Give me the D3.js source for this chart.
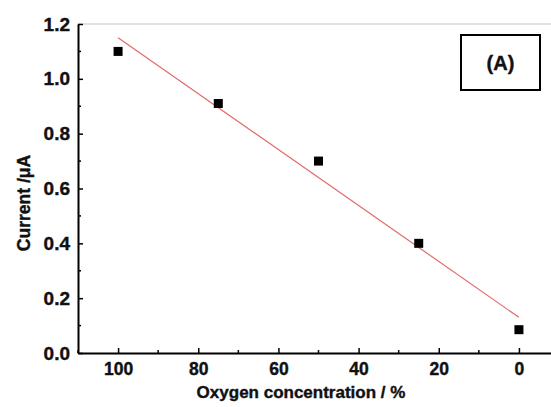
<!DOCTYPE html>
<html>
<head>
<meta charset="utf-8">
<script src="https://cdn.jsdelivr.net/npm/d3@7"></script>
<style>
  body { margin: 0; background: #fff; }
  svg { font-family: "Liberation Sans", Arial, sans-serif; font-weight: bold; }
  svg text { stroke: #111; stroke-width: 0.4px; }
</style>
</head>
<body>
<svg width="551" height="407"></svg>
<script>
// data
var oxygen = [100, 75, 50, 25, 0];
var current = [1.10, 0.91, 0.70, 0.40, 0.085];
// fitted straight line, end points
var fitX = [100, 0];
var fitY = [1.15, 0.13];
var xTicks = [100, 80, 60, 40, 20, 0];
var yTicks = [0.0, 0.2, 0.4, 0.6, 0.8, 1.0, 1.2];

var svg = d3.select("svg"),
	pLeft = 78, pRight = 551, pTop = 24, pBottom = 353;

var x = d3.scaleLinear().domain([110, -8]).range([pLeft, pRight]),
	y = d3.scaleLinear().domain([0, 1.2]).range([pBottom, pTop]);

// top frame line (light)
svg.append("line")
	.attr("x1", pLeft).attr("x2", pRight)
	.attr("y1", pTop).attr("y2", pTop)
	.attr("stroke", "#d8d8d8").attr("stroke-width", 1.5);

// minor ticks
var xMinor = [10, 30, 50, 70, 90, 110];
svg.append("g").selectAll("line").data(xMinor).enter().append("line")
	.attr("x1", function(d){ return x(d); }).attr("x2", function(d){ return x(d); })
	.attr("y1", pBottom).attr("y2", pBottom - 3)
	.attr("stroke", "#000").attr("stroke-width", 1.5);

var yMinor = [0.1, 0.3, 0.5, 0.7, 0.9, 1.1];
svg.append("g").selectAll("line").data(yMinor).enter().append("line")
	.attr("x1", pLeft).attr("x2", pLeft + 3)
	.attr("y1", function(d){ return y(d); }).attr("y2", function(d){ return y(d); })
	.attr("stroke", "#000").attr("stroke-width", 1.5);

// x axis
var gx = svg.append("g")
	.attr("transform", "translate(0," + pBottom + ")")
	.call(d3.axisBottom(x).tickValues(xTicks).tickSize(-5).tickSizeOuter(0).tickPadding(10));
gx.select(".domain").attr("stroke-width", 2);
gx.selectAll(".tick line").attr("stroke-width", 1.5);
gx.selectAll(".tick text")
	.attr("font-size", 17.5).attr("font-weight", "bold").attr("font-family", "Liberation Sans, Arial, sans-serif")
	.attr("fill", "#111");

// y axis
var gy = svg.append("g")
	.attr("transform", "translate(" + pLeft + ",0)")
	.call(d3.axisLeft(y).tickValues(yTicks).tickSize(-5).tickSizeOuter(0).tickPadding(8)
		.tickFormat(d3.format(".1f")));
gy.select(".domain").attr("stroke-width", 2);
gy.selectAll(".tick line").attr("stroke-width", 1.5);
gy.selectAll(".tick text")
	.attr("font-size", 19).attr("font-weight", "bold").attr("font-family", "Liberation Sans, Arial, sans-serif")
	.attr("fill", "#111");

// fit line
svg.append("line")
	.attr("x1", x(fitX[0])).attr("y1", y(fitY[0]))
	.attr("x2", x(fitX[1])).attr("y2", y(fitY[1]))
	.attr("stroke", "#e26a6a").attr("stroke-width", 1.2);

// points
svg.append("g").selectAll("rect").data(oxygen).enter().append("rect")
	.attr("x", function(d){ return x(d) - 4.5; })
	.attr("y", function(d, i){ return y(current[i]) - 4.5; })
	.attr("width", 9).attr("height", 9)
	.attr("fill", "#000");

// axis titles
svg.append("text")
	.attr("x", 301).attr("y", 398)
	.attr("text-anchor", "middle")
	.attr("font-size", 17).attr("fill", "#111")
	.text("Oxygen concentration / %");

svg.append("text")
	.attr("transform", "translate(30,203) rotate(-90)")
	.attr("text-anchor", "middle")
	.attr("font-size", 17.5).attr("fill", "#111")
	.text("Current /\u03bcA");

// panel label
svg.append("rect")
	.attr("x", 461).attr("y", 35).attr("width", 79).attr("height", 55)
	.attr("fill", "#fff").attr("stroke", "#000").attr("stroke-width", 2);
svg.append("text")
	.attr("x", 500.5).attr("y", 70)
	.attr("text-anchor", "middle")
	.attr("font-size", 20).attr("fill", "#111")
	.text("(A)");
</script>
</body>
</html>
